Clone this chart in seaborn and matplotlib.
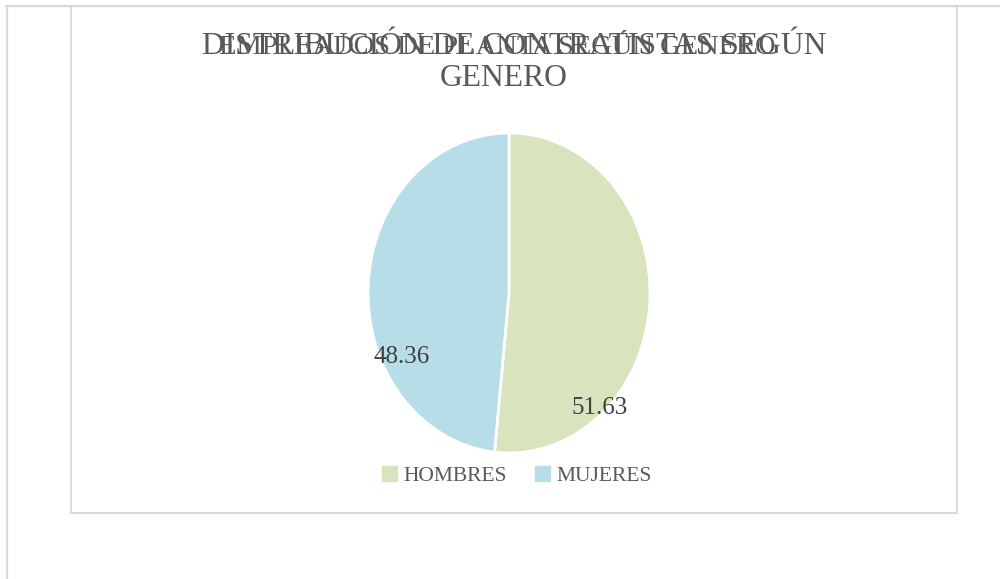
import matplotlib
matplotlib.use("Agg")
import matplotlib.pyplot as plt
from matplotlib.lines import Line2D
from matplotlib.patches import Rectangle
import seaborn as sns

# data
categories = ["HOMBRES", "MUJERES"]
values = [51.63, 48.36]
colors = ["#D7E4BD", "#B7DEE8"]
title_a = "DISTRIBUCIÓN DE CONTRATISTAS SEGÚN\nGENERO"
title_b = "EMPLEADOS DE PLANTA SEGÚN GENERO"

sns.set_theme(style="white")
plt.rcParams["font.family"] = ["Liberation Serif", "DejaVu Serif"]

fig = plt.figure(figsize=(10, 5.79), dpi=100)

# page / chart frames
grey = "#D9D9D9"
fig.add_artist(Line2D([0.006, 1.0], [1 - 6 / 579, 1 - 6 / 579], color=grey, lw=1.6, transform=fig.transFigure))
fig.add_artist(Line2D([0.007, 0.007], [1 - 6 / 579, 0.0], color=grey, lw=1.6, transform=fig.transFigure))
fig.add_artist(Rectangle((0.071, 1 - 513 / 579), 0.957 - 0.071, (513 - 6) / 579,
                         fill=False, edgecolor=grey, lw=1.4, transform=fig.transFigure))

# pie (slightly elliptical like the original)
ax = fig.add_axes([0.3539, 0.190, 0.3102, 0.608])
wedges, _ = ax.pie(values, colors=colors, startangle=90, counterclock=False,
                   wedgeprops=dict(edgecolor="white", linewidth=2))
ax.set_aspect("auto")
ax.set_xlim(-1.1, 1.1)
ax.set_ylim(-1.1, 1.1)
ax.axis("off")

# data labels
label_pos = [(0.64, -0.72), (-0.76, -0.40)]
for v, (x, y) in zip(values, label_pos):
    ax.text(x, y, f"{v:.2f}", ha="center", va="center", fontsize=18, color="#404040")

# overlapping titles (as in the original)
line1, line2 = title_a.split("\n")
fig.text(0.514, 1 - 47 / 579, line1, ha="center", va="center", fontsize=22.8, color="#595959")
fig.text(0.504, 1 - 79 / 579, line2, ha="center", va="center", fontsize=22.8, color="#595959")
fig.text(0.497, 1 - 47 / 579, title_b, ha="center", va="center", fontsize=20.5, color="#595959")

# legend
handles = [Rectangle((0, 0), 1, 1, color=c) for c in colors]
fig.legend(handles, categories, loc="center", bbox_to_anchor=(0.517, 1 - 476 / 579), ncol=2,
           frameon=False, fontsize=15.5, handlelength=0.7, handleheight=0.7, handletextpad=0.3,
           columnspacing=1.3, labelcolor="#595959")

fig.savefig("out.png", dpi=100)
